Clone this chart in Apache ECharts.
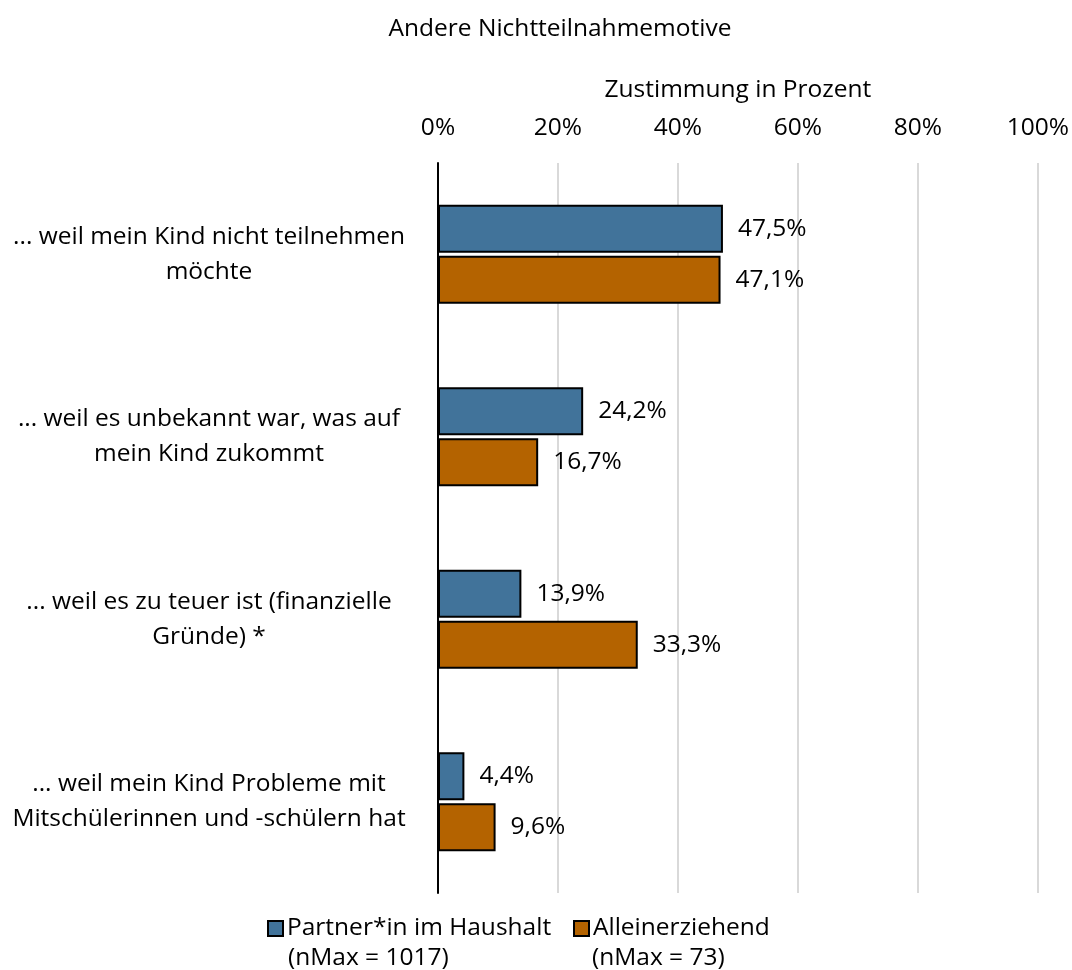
<!DOCTYPE html>
<html>
<head>
<meta charset="utf-8">
<script src="https://cdn.jsdelivr.net/npm/echarts@6/dist/echarts.min.js"></script>
<style>
  html, body { margin: 0; padding: 0; background: #fff; }
  #chart { width: 1072px; height: 970px; }
</style>
</head>
<body>
<div id="chart"></div>
<script>
// Kategorien (von oben nach unten)
var categories = [
  '... weil mein Kind nicht teilnehmen\nmöchte',
  '... weil es unbekannt war, was auf\nmein Kind zukommt',
  '... weil es zu teuer ist (finanzielle\nGründe) *',
  '... weil mein Kind Probleme mit\nMitschülerinnen und -schülern hat'
];
var partnerValues = [47.5, 24.2, 13.9, 4.4];
var alleinValues = [47.1, 16.7, 33.3, 9.6];
var seriesNames = ['Partner*in im Haushalt', 'Alleinerziehend'];
var seriesNotes = ['(nMax = 1017)', '(nMax = 73)'];
var tickValues = [0, 20, 40, 60, 80, 100];

var fontName = 'Open Sans';
var fs = 24.5;
var chart = echarts.init(document.getElementById('chart'));

function pct(p) {
  return p.value.toFixed(1).replace('.', ',') + '%';
}

var option = {
  animation: false,
  textStyle: { fontFamily: fontName, color: '#000' },
  title: {
    text: 'Andere Nichtteilnahmemotive',
    left: 555,
    textAlign: 'center',
    top: 12,
    textStyle: { fontFamily: fontName, fontSize: fs, fontWeight: 'normal', color: '#000' }
  },
  legend: [
    {
      data: [seriesNames[0]],
      left: 262,
      top: 911,
      itemWidth: 15,
      itemHeight: 15,
      icon: 'rect',
      textStyle: { fontFamily: fontName, fontSize: fs, color: '#000', padding: [0, 0, 0, -1] }
    },
    {
      data: [seriesNames[1]],
      left: 568,
      top: 911,
      itemWidth: 15,
      itemHeight: 15,
      icon: 'rect',
      textStyle: { fontFamily: fontName, fontSize: fs, color: '#000', padding: [0, 0, 0, -1] }
    }
  ],
  graphic: [
    { type: 'text', left: 288, top: 946, style: { text: seriesNotes[0], font: fs + 'px "' + fontName + '"', fill: '#000' } },
    { type: 'text', left: 592, top: 946, style: { text: seriesNotes[1], font: fs + 'px "' + fontName + '"', fill: '#000' } }
  ],
  grid: { left: 438, right: 34, top: 163, bottom: 77, containLabel: false },
  xAxis: {
    type: 'value',
    position: 'top',
    min: 0,
    max: 100,
    interval: 20,
    name: 'Zustimmung in Prozent',
    nameLocation: 'middle',
    nameGap: 60,
    nameTextStyle: { fontFamily: fontName, fontSize: fs, color: '#000' },
    axisLine: { show: false },
    axisTick: { show: false },
    axisLabel: {
      margin: 22,
      fontSize: fs,
      color: '#000',
      fontFamily: fontName,
      formatter: function (v) { return tickValues.indexOf(v) >= 0 ? v + '%' : ''; }
    },
    splitLine: { show: true, lineStyle: { color: '#D9D9D9', width: 2 } }
  },
  yAxis: {
    type: 'category',
    inverse: true,
    data: categories,
    axisLine: { show: true, lineStyle: { color: '#000', width: 2 } },
    axisTick: { show: false },
    axisLabel: {
      align: 'center',
      margin: 229,
      fontSize: fs,
      lineHeight: 35,
      color: '#000',
      fontFamily: fontName
    }
  },
  series: [
    {
      name: seriesNames[0],
      type: 'bar',
      data: partnerValues,
      barWidth: 48,
      barGap: '6%',
      itemStyle: { color: '#41739A', borderColor: '#000', borderWidth: 2 },
      label: { show: true, position: 'right', distance: 15, fontSize: fs, color: '#000', fontFamily: fontName, formatter: pct }
    },
    {
      name: seriesNames[1],
      type: 'bar',
      data: alleinValues,
      barWidth: 48,
      barGap: '6%',
      itemStyle: { color: '#B46300', borderColor: '#000', borderWidth: 2 },
      label: { show: true, position: 'right', distance: 15, fontSize: fs, color: '#000', fontFamily: fontName, formatter: pct }
    }
  ]
};

chart.setOption(option);
</script>
</body>
</html>
